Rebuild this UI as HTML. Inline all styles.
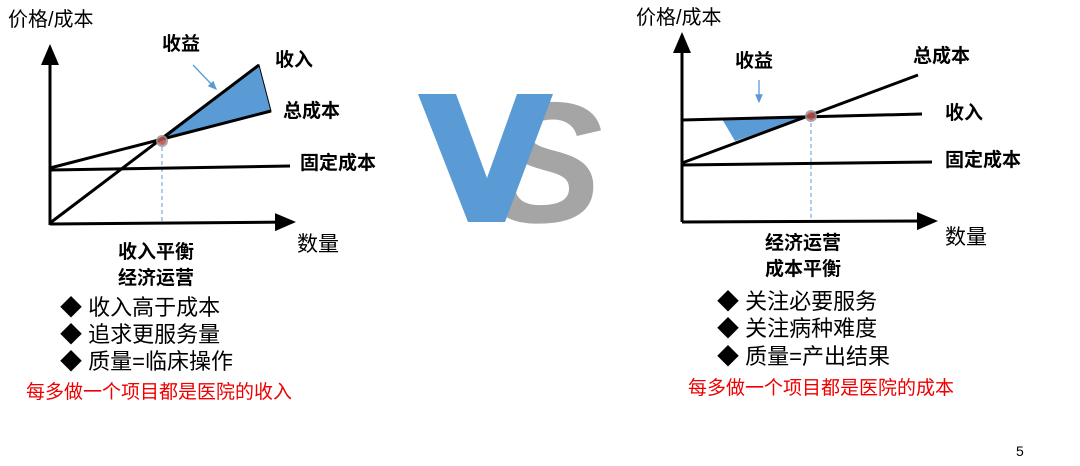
<!DOCTYPE html>
<html><head><meta charset="utf-8"><style>
body{margin:0;width:1080px;height:466px;background:#fff;overflow:hidden;position:relative;font-family:"Liberation Sans","Noto Sans CJK SC",sans-serif}
.t{position:absolute;white-space:nowrap;line-height:1}
.b{font-weight:bold}
</style></head><body>
<svg width="1080" height="466" style="position:absolute;left:0;top:0">
<defs><marker id="ah" markerWidth="8" markerHeight="8" refX="6" refY="4" orient="auto"><path d="M0,1 L7,4 L0,7 Z" fill="#000"/></marker>
<marker id="bh" markerWidth="8" markerHeight="8" refX="6" refY="4" orient="auto"><path d="M0,1 L7,4 L0,7 Z" fill="#5b9bd5"/></marker></defs>
<polygon points="162,140 259,65 271,111" fill="#5b9bd5" stroke="#000" stroke-width="1"/>
<line x1="162" y1="140" x2="162" y2="223" stroke="#5b9bd5" stroke-dasharray="4,3" stroke-width="1"/>
<line x1="50" y1="225" x2="50" y2="47" stroke="#000" stroke-width="3" marker-end="url(#ah)"/>
<line x1="50" y1="224" x2="293" y2="222" stroke="#000" stroke-width="3" marker-end="url(#ah)"/>
<line x1="50" y1="170" x2="290" y2="166" stroke="#000" stroke-width="3"/>
<line x1="50" y1="168" x2="271" y2="111" stroke="#000" stroke-width="3"/>
<line x1="50" y1="223" x2="259" y2="65" stroke="#000" stroke-width="3"/>
<circle cx="162" cy="141" r="5" fill="#c0504d" stroke="#999" stroke-width="2" opacity="0.85"/>
<line x1="193" y1="65" x2="216" y2="89" stroke="#5b9bd5" stroke-width="1.3" marker-end="url(#bh)"/>
<polygon points="722,119 811,116 735,141" fill="#5b9bd5"/>
<line x1="811" y1="116" x2="811" y2="220" stroke="#5b9bd5" stroke-dasharray="4,3" stroke-width="1"/>
<line x1="682" y1="222" x2="682" y2="35" stroke="#000" stroke-width="3" marker-end="url(#ah)"/>
<line x1="682" y1="222" x2="935" y2="221" stroke="#000" stroke-width="3" marker-end="url(#ah)"/>
<line x1="682" y1="120" x2="922" y2="114" stroke="#000" stroke-width="3"/>
<line x1="682" y1="163" x2="918" y2="75" stroke="#000" stroke-width="3"/>
<line x1="682" y1="165" x2="932" y2="162" stroke="#000" stroke-width="3"/>
<circle cx="811" cy="116" r="5" fill="#c0504d" stroke="#999" stroke-width="2" opacity="0.85"/>
<line x1="759" y1="80" x2="759" y2="102" stroke="#5b9bd5" stroke-width="1.3" marker-end="url(#bh)"/>
<text x="488" y="222" font-family="Liberation Sans" font-weight="bold" font-style="italic" font-size="172" fill="#a5a5a5">S</text>
<polygon points="418,94 456,94 487,178 517,94 553,94 505,222 468,222" fill="#5b9bd5"/>
</svg>
<div class="t" style="left:8px;top:10px;font-size:20px">价格/成本</div>
<div class="t b" style="left:162px;top:35px;font-size:19px">收益</div>
<div class="t b" style="left:275px;top:51px;font-size:19px">收入</div>
<div class="t b" style="left:283px;top:102px;font-size:19px">总成本</div>
<div class="t b" style="left:300px;top:154px;font-size:19px">固定成本</div>
<div class="t" style="left:297px;top:234px;font-size:21px">数量</div>
<div class="t b" style="left:118px;top:243px;font-size:19px">收入平衡</div>
<div class="t b" style="left:118px;top:269px;font-size:19px">经济运营</div>
<div class="t" style="left:60px;top:297px;font-size:22px">◆ 收入高于成本</div>
<div class="t" style="left:60px;top:324px;font-size:22px">◆ 追求更服务量</div>
<div class="t" style="left:60px;top:351px;font-size:22px">◆ 质量=临床操作</div>
<div class="t" style="left:26px;top:383px;font-size:19px;color:#e00">每多做一个项目都是医院的收入</div>

<div class="t" style="left:636px;top:8px;font-size:20px">价格/成本</div>
<div class="t b" style="left:735px;top:52px;font-size:19px">收益</div>
<div class="t b" style="left:913px;top:47px;font-size:19px">总成本</div>
<div class="t b" style="left:945px;top:104px;font-size:19px">收入</div>
<div class="t b" style="left:945px;top:151px;font-size:19px">固定成本</div>
<div class="t" style="left:945px;top:227px;font-size:21px">数量</div>
<div class="t b" style="left:765px;top:234px;font-size:19px">经济运营</div>
<div class="t b" style="left:765px;top:260px;font-size:19px">成本平衡</div>
<div class="t" style="left:717px;top:291px;font-size:22px">◆ 关注必要服务</div>
<div class="t" style="left:717px;top:318px;font-size:22px">◆ 关注病种难度</div>
<div class="t" style="left:717px;top:346px;font-size:22px">◆ 质量=产出结果</div>
<div class="t" style="left:688px;top:379px;font-size:19px;color:#e00">每多做一个项目都是医院的成本</div>
<div class="t" style="left:1016px;top:444px;font-size:14px">5</div>
</body></html>
